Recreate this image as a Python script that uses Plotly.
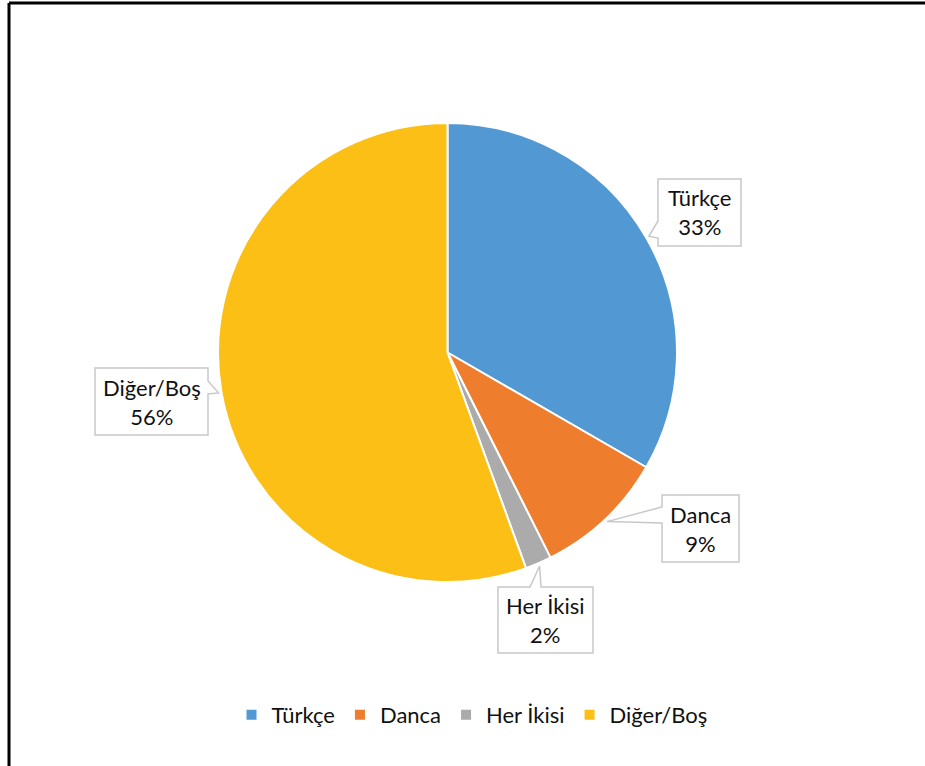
import math
import plotly.graph_objects as go

# Survey responses by language
categories = ["Türkçe", "Danca", "Her İkisi", "Diğer/Boş"]
counts = [18, 5, 1, 30]
colors = ["#5299D4", "#EE7D2E", "#ABABAB", "#FCBF15"]

W, H = 925, 766
FONT = "Lato, Open Sans, sans-serif"

# Pie placement (pixels)
CX, CY, R = 447.5, 352.5, 229.5


def px(x):
    return x / W


def py(y):
    return 1 - y / H


fig = go.Figure(
    go.Pie(
        labels=categories,
        values=counts,
        sort=False,
        direction="clockwise",
        rotation=0,
        marker=dict(colors=colors, line=dict(color="white", width=2)),
        textinfo="none",
        hoverinfo="label+percent",
        domain=dict(x=[px(CX - R), px(CX + R)], y=[py(CY + R), py(CY - R)]),
    )
)

# Callout boxes: (x0, y0, x1, y1), side holding the pointer, pointer base span
callouts = [
    dict(box=(658, 179, 741, 246), side="left", base=(221, 238)),
    dict(box=(662, 495, 739, 562), side="left", base=(507, 523)),
    dict(box=(498, 587, 593, 653), side="top", base=(530, 541)),
    dict(box=(95, 368, 208, 435), side="right", base=(381, 394)),
]

total = sum(counts)
cum = 0
shapes = []
annotations = []
for cat, val, co in zip(categories, counts, callouts):
    theta = 2 * math.pi * (cum + val / 2) / total
    cum += val
    r_tip = R + 3
    tx, ty = CX + r_tip * math.sin(theta), CY - r_tip * math.cos(theta)
    x0, y0, x1, y1 = co["box"]
    b0, b1 = co["base"]
    if co["side"] == "left":
        pts = [(x0, y0), (x1, y0), (x1, y1), (x0, y1), (x0, b1), (tx, ty), (x0, b0)]
    elif co["side"] == "right":
        pts = [(x0, y0), (x1, y0), (x1, b0), (tx, ty), (x1, b1), (x1, y1), (x0, y1)]
    else:  # top
        pts = [(x0, y0), (b0, y0), (tx, ty), (b1, y0), (x1, y0), (x1, y1), (x0, y1)]
    path = "M " + " L ".join(f"{px(x):.5f},{py(y):.5f}" for x, y in pts) + " Z"
    shapes.append(
        dict(
            type="path", xref="paper", yref="paper", path=path,
            fillcolor="white", line=dict(color="#C8C8C8", width=1.5), layer="above",
        )
    )
    pct = round(100 * val / total)
    annotations.append(
        dict(
            x=px((x0 + x1) / 2), y=py((y0 + y1) / 2), xref="paper", yref="paper",
            text=f"{cat}<br>{pct}%", showarrow=False, align="center",
            xanchor="center", yanchor="middle",
            font=dict(family=FONT, size=22, color="#111111"),
        )
    )

# Chart frame (top and left edges)
shapes.append(dict(type="line", xref="paper", yref="paper",
                   x0=px(9), y0=py(3), x1=px(W + 10), y1=py(3),
                   line=dict(color="black", width=3)))
shapes.append(dict(type="line", xref="paper", yref="paper",
                   x0=px(9), y0=py(3), x1=px(9), y1=py(H + 10),
                   line=dict(color="black", width=3)))

fig.update_layout(
    width=W,
    height=H,
    margin=dict(l=0, r=0, t=0, b=0),
    paper_bgcolor="white",
    plot_bgcolor="white",
    shapes=shapes,
    annotations=annotations,
    showlegend=True,
    legend=dict(
        orientation="h",
        x=px(472), xanchor="center",
        y=py(715), yanchor="middle",
        font=dict(family=FONT, size=22, color="#111111"),
        itemwidth=30,
        tracegroupgap=0,
        traceorder="normal",
    ),
)

fig.write_html("out.html")
